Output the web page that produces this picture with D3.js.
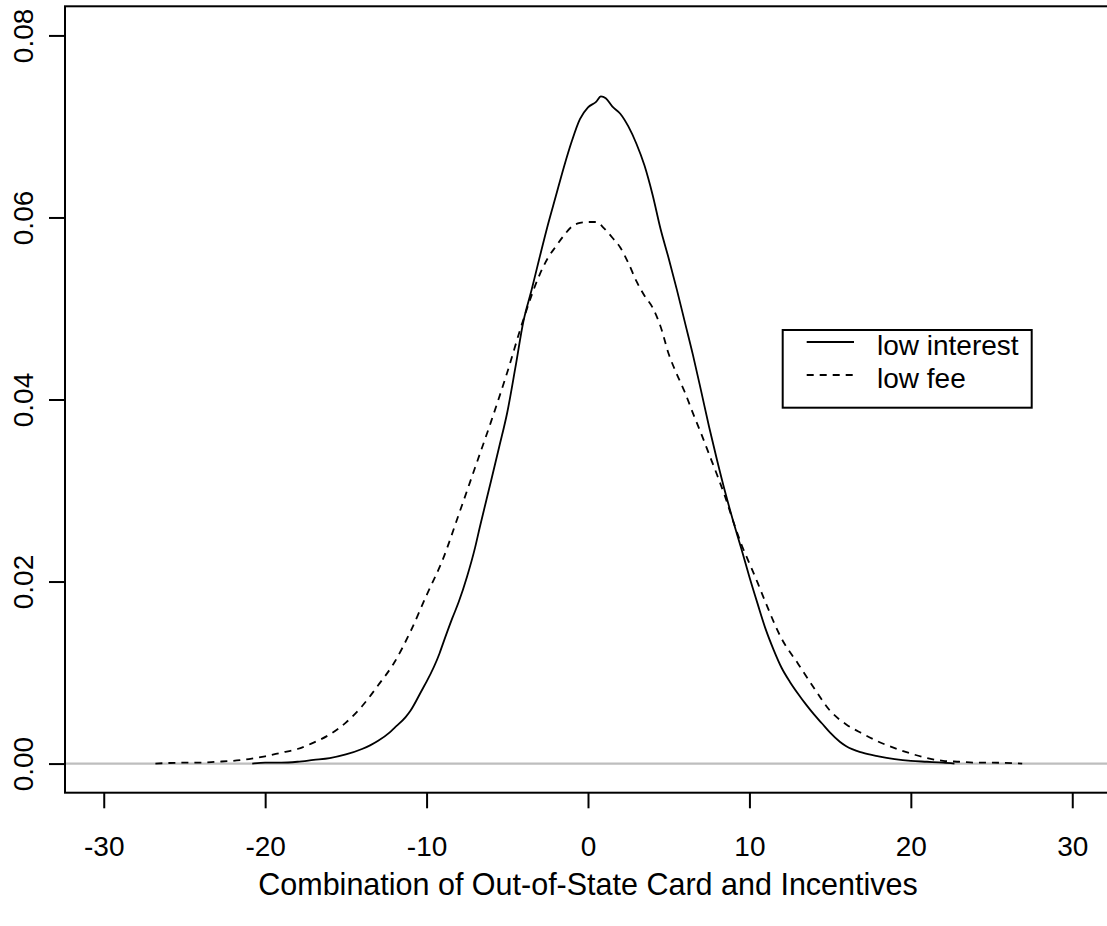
<!DOCTYPE html>
<html>
<head>
<meta charset="utf-8">
<script src="https://cdn.jsdelivr.net/npm/d3@7"></script>
<style>
  body { margin: 0; background: #fff; }
  svg { display: block; font-family: "Liberation Sans", Arial, sans-serif; }
</style>
</head>
<body>
<div id="main"></div>
<script>
// density curves
const interestX = [-20.8, -20, -19, -18, -17, -16, -15, -14, -13.5, -13, -12.3, -12, -11.3, -11, -10.25, -10, -9.2, -9, -8.4, -8, -7.5, -7, -6.7, -6, -5.5, -5, -4.5, -4, -3.5, -3, -2.5, -2, -1.5, -1, -0.5, 0, 0.5, 0.8, 1.1, 1.5, 2, 2.5, 3, 3.5, 4, 4.5, 5, 5.5, 6, 6.5, 7, 7.5, 8, 8.5, 9, 9.5, 10, 10.5, 11, 11.5, 12, 12.5, 13, 13.5, 14, 14.5, 15, 15.6, 16, 17, 18, 19, 20, 21, 22, 22.7]
const interestY = [0, 0.0001, 0.0001, 0.0002, 0.0004, 0.0006, 0.001, 0.0016, 0.002, 0.0025, 0.0034, 0.0039, 0.0051, 0.0058, 0.0082, 0.009, 0.0121, 0.0131, 0.016, 0.0178, 0.0205, 0.0237, 0.026, 0.0311, 0.0348, 0.0386, 0.0435, 0.0486, 0.052, 0.0556, 0.0591, 0.0623, 0.0655, 0.0684, 0.0708, 0.0721, 0.0727, 0.0733, 0.0731, 0.0722, 0.0714, 0.07, 0.0681, 0.0657, 0.0625, 0.0587, 0.0555, 0.0521, 0.0485, 0.0449, 0.041, 0.037, 0.0333, 0.0298, 0.0266, 0.0236, 0.0205, 0.0176, 0.0148, 0.0125, 0.0105, 0.009, 0.0077, 0.0065, 0.0054, 0.0044, 0.0034, 0.0024, 0.0019, 0.0012, 0.0008, 0.0005, 0.0003, 0.0002, 0.0001, 0]

const feeX = [-26.8, -25, -24, -23, -22, -21, -20, -19, -18, -17, -16, -15, -14, -13, -12, -11, -10, -9, -8, -7, -6, -5, -4, -3, -2.5, -2, -1.5, -1, -0.5, 0, 0.5, 1, 1.5, 2, 2.5, 3, 3.5, 4, 4.5, 5, 5.5, 6, 6.5, 7, 7.5, 8, 8.5, 9, 9.5, 10, 10.5, 11, 12, 13, 14, 15, 16, 17, 18, 19, 20, 21, 22, 23, 24, 25, 26.9]
const feeY = [0, 0.0001, 0.0001, 0.0002, 0.0003, 0.0005, 0.0008, 0.0012, 0.0016, 0.0023, 0.0032, 0.0045, 0.0063, 0.0086, 0.0111, 0.0145, 0.0185, 0.0224, 0.0274, 0.0325, 0.0376, 0.043, 0.0488, 0.0537, 0.0555, 0.0568, 0.058, 0.059, 0.0594, 0.0595, 0.0595, 0.0588, 0.0578, 0.0567, 0.055, 0.053, 0.0514, 0.0501, 0.048, 0.045, 0.0428, 0.0408, 0.0385, 0.0363, 0.034, 0.0317, 0.0293, 0.0266, 0.0241, 0.022, 0.0199, 0.0177, 0.0137, 0.011, 0.0083, 0.0058, 0.0043, 0.0033, 0.0024, 0.0017, 0.0011, 0.0006, 0.0003, 0.0002, 0.0001, 0.0001, 0]

const xTicks = [-30, -20, -10, 0, 10, 20, 30]
const yTicks = [0, 0.02, 0.04, 0.06, 0.08]
const seriesNames = ['low interest', 'low fee']
const xTitle = 'Combination of Out-of-State Card and Incentives'

const w = 1107
const h = 926

const svg = d3.select('#main')
    .append('svg')
    .attr('width', w)
    .attr('height', h)

// R style 4% padding on both axes
const xScale = d3.scaleLinear().domain([-32.4, 32.4]).range([65, 1111])
const yScale = d3.scaleLinear().domain([-0.0032, 0.0832]).range([792.7, 6.3])

// horizontal reference line at zero
svg.append('line')
    .attr('x1', xScale(-32.4)).attr('x2', xScale(32.4))
    .attr('y1', yScale(0)).attr('y2', yScale(0))
    .attr('stroke', '#bebebe')
    .attr('stroke-width', 2.2)

const line = d3.line()
    .x(d => xScale(d[0]))
    .y(d => yScale(d[1]))
    .curve(d3.curveMonotoneX)

svg.append('path')
    .datum(interestX.map((x, i) => [x, interestY[i]]))
    .attr('d', line)
    .attr('fill', 'none')
    .attr('stroke', '#000')
    .attr('stroke-width', 1.8)
    .attr('stroke-linejoin', 'round')

svg.append('path')
    .datum(feeX.map((x, i) => [x, feeY[i]]))
    .attr('d', line)
    .attr('fill', 'none')
    .attr('stroke', '#000')
    .attr('stroke-width', 1.8)
    .attr('stroke-dasharray', '7,6')

// box
svg.append('rect')
    .attr('x', 65).attr('y', 6.3)
    .attr('width', 1111 - 65).attr('height', 792.7 - 6.3)
    .attr('fill', 'none')
    .attr('stroke', '#000')
    .attr('stroke-width', 2)

// x axis
const xAxis = d3.axisBottom(xScale)
    .tickValues(xTicks)
    .tickFormat(d3.format('d'))
    .tickSize(15.6)
    .tickSizeOuter(0)
    .tickPadding(28)

const gx = svg.append('g')
    .attr('transform', 'translate(0,' + 792.7 + ')')
    .call(xAxis)
gx.select('.domain').remove()
gx.selectAll('line').attr('stroke', '#000').attr('stroke-width', 2)
gx.selectAll('text')
    .attr('fill', '#000')
    .style('font-size', '28px')
    .text(d => d < 0 ? '-' + Math.abs(d) : d)

// y axis
const yAxis = d3.axisLeft(yScale)
    .tickValues(yTicks)
    .tickFormat(d3.format('.2f'))
    .tickSize(16)
    .tickSizeOuter(0)

const gy = svg.append('g')
    .attr('transform', 'translate(65,0)')
    .call(yAxis)
gy.select('.domain').remove()
gy.selectAll('line').attr('stroke', '#000').attr('stroke-width', 2)
gy.selectAll('text')
    .attr('fill', '#000')
    .style('font-size', '28px')
    .attr('x', null)
    .attr('dy', null)
    .attr('text-anchor', 'middle')
    .attr('transform', 'translate(-32.5,0) rotate(-90)')

// x title
svg.append('text')
    .attr('x', xScale(0))
    .attr('y', 895)
    .attr('text-anchor', 'middle')
    .style('font-size', '30.5px')
    .text(xTitle)

// legend
const legend = svg.append('g')
legend.append('rect')
    .attr('x', 782.7).attr('y', 330)
    .attr('width', 1031.7 - 782.7).attr('height', 407.7 - 330)
    .attr('fill', '#fff')
    .attr('stroke', '#000')
    .attr('stroke-width', 2)

seriesNames.forEach((name, i) => {
    const cy = 342 + i * 33
    legend.append('line')
        .attr('x1', 806.7).attr('x2', 854)
        .attr('y1', cy).attr('y2', cy)
        .attr('stroke', '#000')
        .attr('stroke-width', 1.8)
        .attr('stroke-dasharray', i === 1 ? '7,6' : null)
    legend.append('text')
        .attr('x', 877)
        .attr('y', cy + 13)
        .style('font-size', '28px')
        .text(name)
})
</script>
</body>
</html>
